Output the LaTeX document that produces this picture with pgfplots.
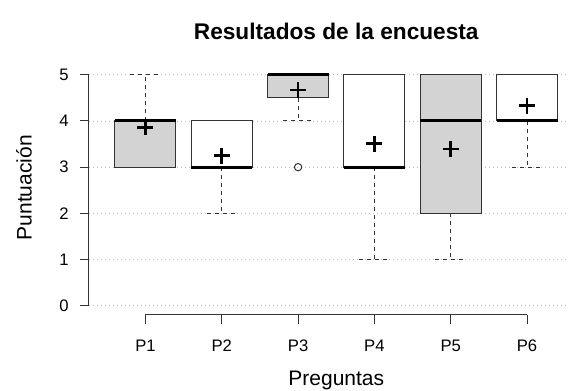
\documentclass[border=0pt]{standalone}
\usepackage{fontspec}
\setmainfont{Liberation Sans}
\usepackage{pgfplots}
\pgfplotsset{compat=1.18}
\usepgfplotslibrary{statistics}
\definecolor{boxgray}{HTML}{D3D3D3}
\definecolor{axgray}{HTML}{333333}
\begin{document}
\begin{tikzpicture}
\begin{axis}[
  name=ax,
  scale only axis,
  width=370.9pt, height=187.1pt,
  xmin=0.26, xmax=6.74, ymin=-0.2, ymax=5.2,
  clip=false,
  axis x line*=bottom, axis y line*=left,
  x axis line style={draw=none}, y axis line style={draw=none},
  xtick={1,2,3,4,5,6},
  xticklabels={P1,P2,P3,P4,P5,P6},
  ytick={0,1,2,3,4,5},
  tick align=outside,
  major tick length=6.75pt,
  tick style={color=axgray, line width=0.75pt},
  /pgf/number format/assume math mode=true,
  tick label style={font=\fontsize{12.5}{14}\selectfont},
  xticklabel style={yshift=-8.5pt},
  yticklabel style={xshift=-5pt},
  ymajorgrids,
  major grid style={color=boxgray!90!black, line width=0.6pt, dash pattern=on 0.75pt off 2.25pt},
  title={Resultados de la encuesta},
  title style={at={(0.5,1.102)}, anchor=base, yshift=-5.25pt, font=\bfseries\fontsize{17}{20}\selectfont},
  xlabel={Preguntas},
  xlabel style={at={(0.5,-0.2846)}, anchor=base, font=\fontsize{15.75}{18}\selectfont},
  ylabel={Puntuación},
  ylabel style={at={(-0.1159,0.51)}, anchor=base, font=\fontsize{15.75}{18}\selectfont},
  boxplot/draw direction=y,
  boxplot/box extend=0.8,
  boxplot/whisker extend=0.4,
  boxplot/every box/.style={draw=axgray, line width=0.75pt},
  boxplot/every median/.style={draw=black, line width=2.25pt},
  boxplot/every whisker/.style={draw=axgray, line width=0.75pt, dash pattern=on 3pt off 3pt},
]
% P1
\addplot[boxplot prepared={draw position=1, lower whisker=3, lower quartile=3, median=4, upper quartile=4, upper whisker=5},
  boxplot/every box/.append style={fill=boxgray}] coordinates {};
% P2
\addplot[boxplot prepared={draw position=2, lower whisker=2, lower quartile=3, median=3, upper quartile=4, upper whisker=4},
  boxplot/every box/.append style={fill=white}] coordinates {};
% P3
\addplot[boxplot prepared={draw position=3, lower whisker=4, lower quartile=4.5, median=5, upper quartile=5, upper whisker=5},
  boxplot/every box/.append style={fill=boxgray}, mark=o, mark size=2.75pt, mark options={draw=axgray, line width=0.75pt, solid}]
  table[row sep=\\, y index=0] {data\\ 3\\};
% P4
\addplot[boxplot prepared={draw position=4, lower whisker=1, lower quartile=3, median=3, upper quartile=5, upper whisker=5},
  boxplot/every box/.append style={fill=white}] coordinates {};
% P5
\addplot[boxplot prepared={draw position=5, lower whisker=1, lower quartile=2, median=4, upper quartile=5, upper whisker=5},
  boxplot/every box/.append style={fill=boxgray}] coordinates {};
% P6
\addplot[boxplot prepared={draw position=6, lower whisker=3, lower quartile=4, median=4, upper quartile=5, upper whisker=5},
  boxplot/every box/.append style={fill=white}] coordinates {};
% means
\addplot[only marks, mark=+, mark size=6pt, line width=2pt, black]
  coordinates {(1,3.86) (2,3.25) (3,4.67) (4,3.51) (5,3.39) (6,4.33)};
% axis spines (R style)
\draw[axgray, line width=0.75pt] (axis cs:1,-0.2) -- (axis cs:6,-0.2);
\draw[axgray, line width=0.75pt] (axis cs:0.26,0) -- (axis cs:0.26,5);
\end{axis}
\pgfresetboundingbox
\path[use as bounding box] ([shift={(-66.75pt,-57pt)}]ax.south west) rectangle ([shift={(360pt,236.25pt)}]ax.south west);
\end{tikzpicture}
\end{document}
